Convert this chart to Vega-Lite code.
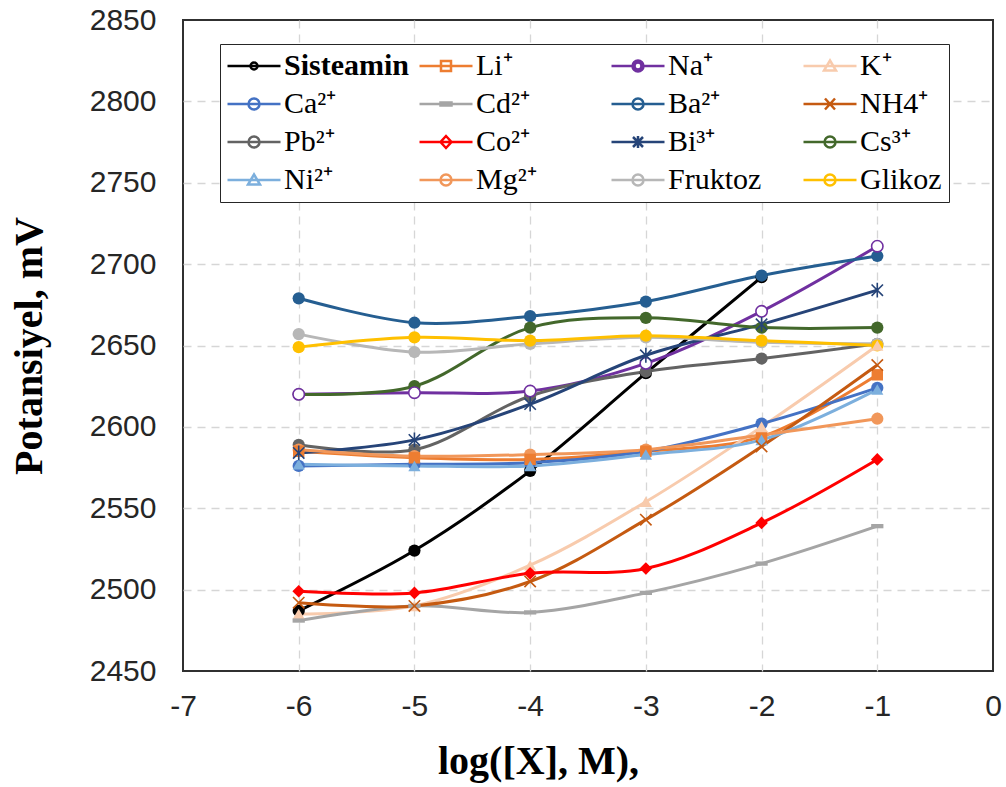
{
  "$schema": "https://vega.github.io/schema/vega-lite/v6.json",
  "width": 810,
  "height": 651,
  "autosize": "none",
  "padding": {"left": 183, "top": 20, "right": 13, "bottom": 116},
  "background": "white",
  "config": {
    "view": {"stroke": "#303030", "strokeWidth": 2},
    "axis": {
      "domain": false,
      "ticks": false,
      "grid": true,
      "gridColor": "#d6d6d6",
      "gridDash": [8, 6],
      "gridWidth": 1.3,
      "labelFont": "Liberation Sans",
      "labelFontSize": 30,
      "labelColor": "#262626",
      "labelOverlap": false,
      "labelFlush": false,
      "titleFont": "Liberation Serif",
      "titleFontSize": 40,
      "titleFontWeight": "bold",
      "titleColor": "#000000"
    },
    "legend": {
      "orient": "none",
      "legendX": 37,
      "legendY": 24,
      "columns": 4,
      "gridAlign": "all",
      "columnPadding": 4,
      "rowPadding": 8,
      "padding": 7,
      "symbolSize": 400,
      "symbolStrokeWidth": 2.5,
      "symbolOffset": 12,
      "labelOffset": 15,
      "labelFont": "Liberation Serif",
      "labelFontSize": 30,
      "labelColor": "#000000",
      "labelLimit": 300,
      "strokeColor": "#262626",
      "fillColor": "#FFFFFF"
    }
  },
  "data": {
    "values": [
      {"s": "Sisteamin", "x": -6, "y": 2487}, {"s": "Sisteamin", "x": -5, "y": 2524}, {"s": "Sisteamin", "x": -4, "y": 2573}, {"s": "Sisteamin", "x": -3, "y": 2633}, {"s": "Sisteamin", "x": -2, "y": 2692},
      {"s": "Li⁺", "x": -6, "y": 2585}, {"s": "Li⁺", "x": -5, "y": 2581}, {"s": "Li⁺", "x": -4, "y": 2580}, {"s": "Li⁺", "x": -3, "y": 2585}, {"s": "Li⁺", "x": -2, "y": 2594}, {"s": "Li⁺", "x": -1, "y": 2632},
      {"s": "Na⁺", "x": -6, "y": 2620}, {"s": "Na⁺", "x": -5, "y": 2621}, {"s": "Na⁺", "x": -4, "y": 2622}, {"s": "Na⁺", "x": -3, "y": 2639}, {"s": "Na⁺", "x": -2, "y": 2671}, {"s": "Na⁺", "x": -1, "y": 2711},
      {"s": "K⁺", "x": -6, "y": 2485}, {"s": "K⁺", "x": -5, "y": 2490}, {"s": "K⁺", "x": -4, "y": 2515}, {"s": "K⁺", "x": -3, "y": 2554}, {"s": "K⁺", "x": -2, "y": 2600}, {"s": "K⁺", "x": -1, "y": 2650},
      {"s": "Ca²⁺", "x": -6, "y": 2576}, {"s": "Ca²⁺", "x": -5, "y": 2577}, {"s": "Ca²⁺", "x": -4, "y": 2578}, {"s": "Ca²⁺", "x": -3, "y": 2585}, {"s": "Ca²⁺", "x": -2, "y": 2602}, {"s": "Ca²⁺", "x": -1, "y": 2624},
      {"s": "Cd²⁺", "x": -6, "y": 2481}, {"s": "Cd²⁺", "x": -5, "y": 2490}, {"s": "Cd²⁺", "x": -4, "y": 2486}, {"s": "Cd²⁺", "x": -3, "y": 2498}, {"s": "Cd²⁺", "x": -2, "y": 2516}, {"s": "Cd²⁺", "x": -1, "y": 2539},
      {"s": "Ba²⁺", "x": -6, "y": 2679}, {"s": "Ba²⁺", "x": -5, "y": 2664}, {"s": "Ba²⁺", "x": -4, "y": 2668}, {"s": "Ba²⁺", "x": -3, "y": 2677}, {"s": "Ba²⁺", "x": -2, "y": 2693}, {"s": "Ba²⁺", "x": -1, "y": 2705},
      {"s": "NH4⁺", "x": -6, "y": 2492}, {"s": "NH4⁺", "x": -5, "y": 2490}, {"s": "NH4⁺", "x": -4, "y": 2505}, {"s": "NH4⁺", "x": -3, "y": 2543}, {"s": "NH4⁺", "x": -2, "y": 2588}, {"s": "NH4⁺", "x": -1, "y": 2638},
      {"s": "Pb²⁺", "x": -6, "y": 2589}, {"s": "Pb²⁺", "x": -5, "y": 2586}, {"s": "Pb²⁺", "x": -4, "y": 2619}, {"s": "Pb²⁺", "x": -3, "y": 2634}, {"s": "Pb²⁺", "x": -2, "y": 2642}, {"s": "Pb²⁺", "x": -1, "y": 2651},
      {"s": "Co²⁺", "x": -6, "y": 2499}, {"s": "Co²⁺", "x": -5, "y": 2498}, {"s": "Co²⁺", "x": -4, "y": 2510}, {"s": "Co²⁺", "x": -3, "y": 2513}, {"s": "Co²⁺", "x": -2, "y": 2541}, {"s": "Co²⁺", "x": -1, "y": 2580},
      {"s": "Bi³⁺", "x": -6, "y": 2584}, {"s": "Bi³⁺", "x": -5, "y": 2592}, {"s": "Bi³⁺", "x": -4, "y": 2614}, {"s": "Bi³⁺", "x": -3, "y": 2644}, {"s": "Bi³⁺", "x": -2, "y": 2663}, {"s": "Bi³⁺", "x": -1, "y": 2684},
      {"s": "Cs³⁺", "x": -6, "y": 2620}, {"s": "Cs³⁺", "x": -5, "y": 2625}, {"s": "Cs³⁺", "x": -4, "y": 2661}, {"s": "Cs³⁺", "x": -3, "y": 2667}, {"s": "Cs³⁺", "x": -2, "y": 2661}, {"s": "Cs³⁺", "x": -1, "y": 2661},
      {"s": "Ni²⁺", "x": -6, "y": 2577}, {"s": "Ni²⁺", "x": -5, "y": 2576}, {"s": "Ni²⁺", "x": -4, "y": 2576}, {"s": "Ni²⁺", "x": -3, "y": 2583}, {"s": "Ni²⁺", "x": -2, "y": 2592}, {"s": "Ni²⁺", "x": -1, "y": 2623},
      {"s": "Mg²⁺", "x": -6, "y": 2586}, {"s": "Mg²⁺", "x": -5, "y": 2582}, {"s": "Mg²⁺", "x": -4, "y": 2583}, {"s": "Mg²⁺", "x": -3, "y": 2586}, {"s": "Mg²⁺", "x": -2, "y": 2595}, {"s": "Mg²⁺", "x": -1, "y": 2605},
      {"s": "Fruktoz", "x": -6, "y": 2657}, {"s": "Fruktoz", "x": -5, "y": 2646}, {"s": "Fruktoz", "x": -4, "y": 2651}, {"s": "Fruktoz", "x": -3, "y": 2655}, {"s": "Fruktoz", "x": -2, "y": 2652}, {"s": "Fruktoz", "x": -1, "y": 2651},
      {"s": "Glikoz", "x": -6, "y": 2649}, {"s": "Glikoz", "x": -5, "y": 2655}, {"s": "Glikoz", "x": -4, "y": 2653}, {"s": "Glikoz", "x": -3, "y": 2656}, {"s": "Glikoz", "x": -2, "y": 2653}, {"s": "Glikoz", "x": -1, "y": 2650}
    ]
  },
  "encoding": {
    "x": {
      "field": "x",
      "type": "quantitative",
      "scale": {"domain": [-7, 0], "nice": false, "zero": false},
      "axis": {
        "values": [-7, -6, -5, -4, -3, -2, -1, 0],
        "labelExpr": "'' + datum.value",
        "labelPadding": 20,
        "gridOpacity": {"condition": {"test": "datum.value <= -7 || datum.value >= 0", "value": 0}, "value": 1},
        "title": "log([X], M),",
        "titleX": 355,
        "titleY": 102,
        "titleAlign": "center",
        "titleBaseline": "alphabetic"
      }
    },
    "y": {
      "field": "y",
      "type": "quantitative",
      "scale": {"domain": [2450, 2850], "nice": false, "zero": false},
      "axis": {
        "values": [2450, 2500, 2550, 2600, 2650, 2700, 2750, 2800, 2850],
        "format": "d",
        "labelPadding": 27,
        "gridOpacity": {"condition": {"test": "datum.value <= 2450 || datum.value >= 2850", "value": 0}, "value": 1},
        "title": "Potansiyel, mV",
        "titleAngle": -90,
        "titleX": -142,
        "titleY": 325.5,
        "titleAlign": "center",
        "titleBaseline": "alphabetic"
      }
    },
    "color": {
      "field": "s",
      "type": "nominal",
      "scale": {
        "domain": ["Sisteamin", "Li⁺", "Na⁺", "K⁺", "Ca²⁺", "Cd²⁺", "Ba²⁺", "NH4⁺", "Pb²⁺", "Co²⁺", "Bi³⁺", "Cs³⁺", "Ni²⁺", "Mg²⁺", "Fruktoz", "Glikoz"],
        "range": ["#000000", "#ED7D31", "#7030A0", "#F8CBAD", "#4472C4", "#A5A5A5", "#255E91", "#C55A11", "#636363", "#FF0000", "#264478", "#43682B", "#7CAFDD", "#F1975A", "#B7B7B7", "#FFC000"]
      },
      "legend": null
    }
  },
  "layer": [
    {
      "mark": {"type": "line", "strokeWidth": 3, "interpolate": "catmull-rom"}
    },
    {
      "transform": [{"filter": {"field": "s", "oneOf": ["Sisteamin", "Ca²⁺", "Ba²⁺", "Pb²⁺", "Cs³⁺", "Mg²⁺", "Fruktoz", "Glikoz"]}}],
      "mark": {"type": "point", "shape": "circle", "filled": true, "size": 150, "opacity": 1}
    },
    {
      "transform": [{"filter": {"field": "s", "equal": "Na⁺"}}],
      "mark": {"type": "point", "shape": "circle", "filled": false, "fill": "#FFFFFF", "size": 130, "strokeWidth": 1.6, "opacity": 1}
    },
    {
      "transform": [{"filter": {"field": "s", "equal": "Li⁺"}}],
      "mark": {"type": "point", "shape": "square", "filled": true, "size": 130, "opacity": 1}
    },
    {
      "transform": [{"filter": {"field": "s", "oneOf": ["K⁺", "Ni²⁺"]}}],
      "mark": {"type": "point", "shape": "triangle-up", "filled": true, "size": 150, "opacity": 1}
    },
    {
      "transform": [{"filter": {"field": "s", "equal": "Cd²⁺"}}],
      "mark": {"type": "point", "shape": "M-1,-0.35H1V0.35H-1Z", "filled": true, "size": 150, "opacity": 1}
    },
    {
      "transform": [{"filter": {"field": "s", "equal": "Co²⁺"}}],
      "mark": {"type": "point", "shape": "diamond", "filled": true, "size": 160, "opacity": 1}
    },
    {
      "transform": [{"filter": {"field": "s", "equal": "NH4⁺"}}],
      "mark": {"type": "point", "shape": "M-1,-1L1,1M-1,1L1,-1", "filled": false, "size": 130, "strokeWidth": 1.6, "opacity": 1}
    },
    {
      "transform": [{"filter": {"field": "s", "equal": "Bi³⁺"}}],
      "mark": {"type": "point", "shape": "M-1,-1L1,1M-1,1L1,-1M0,-1.3V1.3", "filled": false, "size": 130, "strokeWidth": 1.6, "opacity": 1}
    },
    {
      "transform": [{"filter": "datum.x == -6"}],
      "mark": {"type": "point", "filled": true, "opacity": 0},
      "encoding": {
        "color": {"value": "#000000"},
        "fill": {
          "field": "s",
          "type": "nominal",
          "scale": {
            "domain": ["Sisteamin", "Ca²⁺", "Pb²⁺", "Ni²⁺", "Li⁺", "Cd²⁺", "Co²⁺", "Mg²⁺", "Na⁺", "Ba²⁺", "Bi³⁺", "Fruktoz", "K⁺", "NH4⁺", "Cs³⁺", "Glikoz"],
            "range": ["#000000", "#4472C4", "#636363", "#7CAFDD", "#ED7D31", "#A5A5A5", "#FF0000", "#F1975A", "#7030A0", "#255E91", "#264478", "#B7B7B7", "#F8CBAD", "#C55A11", "#43682B", "#FFC000"]
          },
          "legend": {"title": null, "labelFont": "Liberation Serif", "labelFontSize": 30, "labelFontWeight": {"expr": "datum.value === 'Sisteamin' ? 'bold' : 'normal'"}}
        },
        "stroke": {
          "field": "s",
          "type": "nominal",
          "scale": {
            "domain": ["Sisteamin", "Ca²⁺", "Pb²⁺", "Ni²⁺", "Li⁺", "Cd²⁺", "Co²⁺", "Mg²⁺", "Na⁺", "Ba²⁺", "Bi³⁺", "Fruktoz", "K⁺", "NH4⁺", "Cs³⁺", "Glikoz"],
            "range": ["#000000", "#4472C4", "#636363", "#7CAFDD", "#ED7D31", "#A5A5A5", "#FF0000", "#F1975A", "#7030A0", "#255E91", "#264478", "#B7B7B7", "#F8CBAD", "#C55A11", "#43682B", "#FFC000"]
          },
          "legend": {"title": null, "labelFont": "Liberation Serif", "labelFontSize": 30, "labelFontWeight": {"expr": "datum.value === 'Sisteamin' ? 'bold' : 'normal'"}}
        },
        "shape": {
          "field": "s",
          "type": "nominal",
          "scale": {
            "domain": ["Sisteamin", "Ca²⁺", "Pb²⁺", "Ni²⁺", "Li⁺", "Cd²⁺", "Co²⁺", "Mg²⁺", "Na⁺", "Ba²⁺", "Bi³⁺", "Fruktoz", "K⁺", "NH4⁺", "Cs³⁺", "Glikoz"],
            "range": [
              "M-2.65,0H2.65M-0.35,0a0.35,0.35 0 1,0 0.7,0a0.35,0.35 0 1,0 -0.7,0Z",
              "M-2.65,0H2.65M-0.55,0a0.55,0.55 0 1,0 1.1,0a0.55,0.55 0 1,0 -1.1,0Z",
              "M-2.65,0H2.65M-0.55,0a0.55,0.55 0 1,0 1.1,0a0.55,0.55 0 1,0 -1.1,0Z",
              "M-2.65,0H2.65M0,-0.55L0.6,0.45H-0.6Z",
              "M-2.65,0H2.65M-0.5,-0.5H0.5V0.5H-0.5Z",
              "M-2.65,0H2.65M-0.55,-0.15H0.55V0.15H-0.55Z",
              "M-2.65,0H2.65M0,-0.6L0.55,0L0,0.6L-0.55,0Z",
              "M-2.65,0H2.65M-0.55,0a0.55,0.55 0 1,0 1.1,0a0.55,0.55 0 1,0 -1.1,0Z",
              "M-2.65,0H-0.55M0.55,0H2.65M-0.55,0a0.55,0.55 0 1,0 1.1,0a0.55,0.55 0 1,0 -1.1,0ZM-0.35,0a0.35,0.35 0 1,1 0.7,0a0.35,0.35 0 1,1 -0.7,0Z",
              "M-2.65,0H2.65M-0.55,0a0.55,0.55 0 1,0 1.1,0a0.55,0.55 0 1,0 -1.1,0Z",
              "M-2.65,0H2.65M-0.5,-0.5L0.5,0.5M-0.5,0.5L0.5,-0.5M0,-0.6V0.6",
              "M-2.65,0H2.65M-0.55,0a0.55,0.55 0 1,0 1.1,0a0.55,0.55 0 1,0 -1.1,0Z",
              "M-2.65,0H2.65M0,-0.55L0.6,0.45H-0.6Z",
              "M-2.65,0H2.65M-0.5,-0.55L0.5,0.55M-0.5,0.55L0.5,-0.55",
              "M-2.65,0H2.65M-0.55,0a0.55,0.55 0 1,0 1.1,0a0.55,0.55 0 1,0 -1.1,0Z",
              "M-2.65,0H2.65M-0.55,0a0.55,0.55 0 1,0 1.1,0a0.55,0.55 0 1,0 -1.1,0Z"
            ]
          },
          "legend": {"title": null, "labelFont": "Liberation Serif", "labelFontSize": 30, "labelFontWeight": {"expr": "datum.value === 'Sisteamin' ? 'bold' : 'normal'"}}
        }
      }
    }
  ]
}
